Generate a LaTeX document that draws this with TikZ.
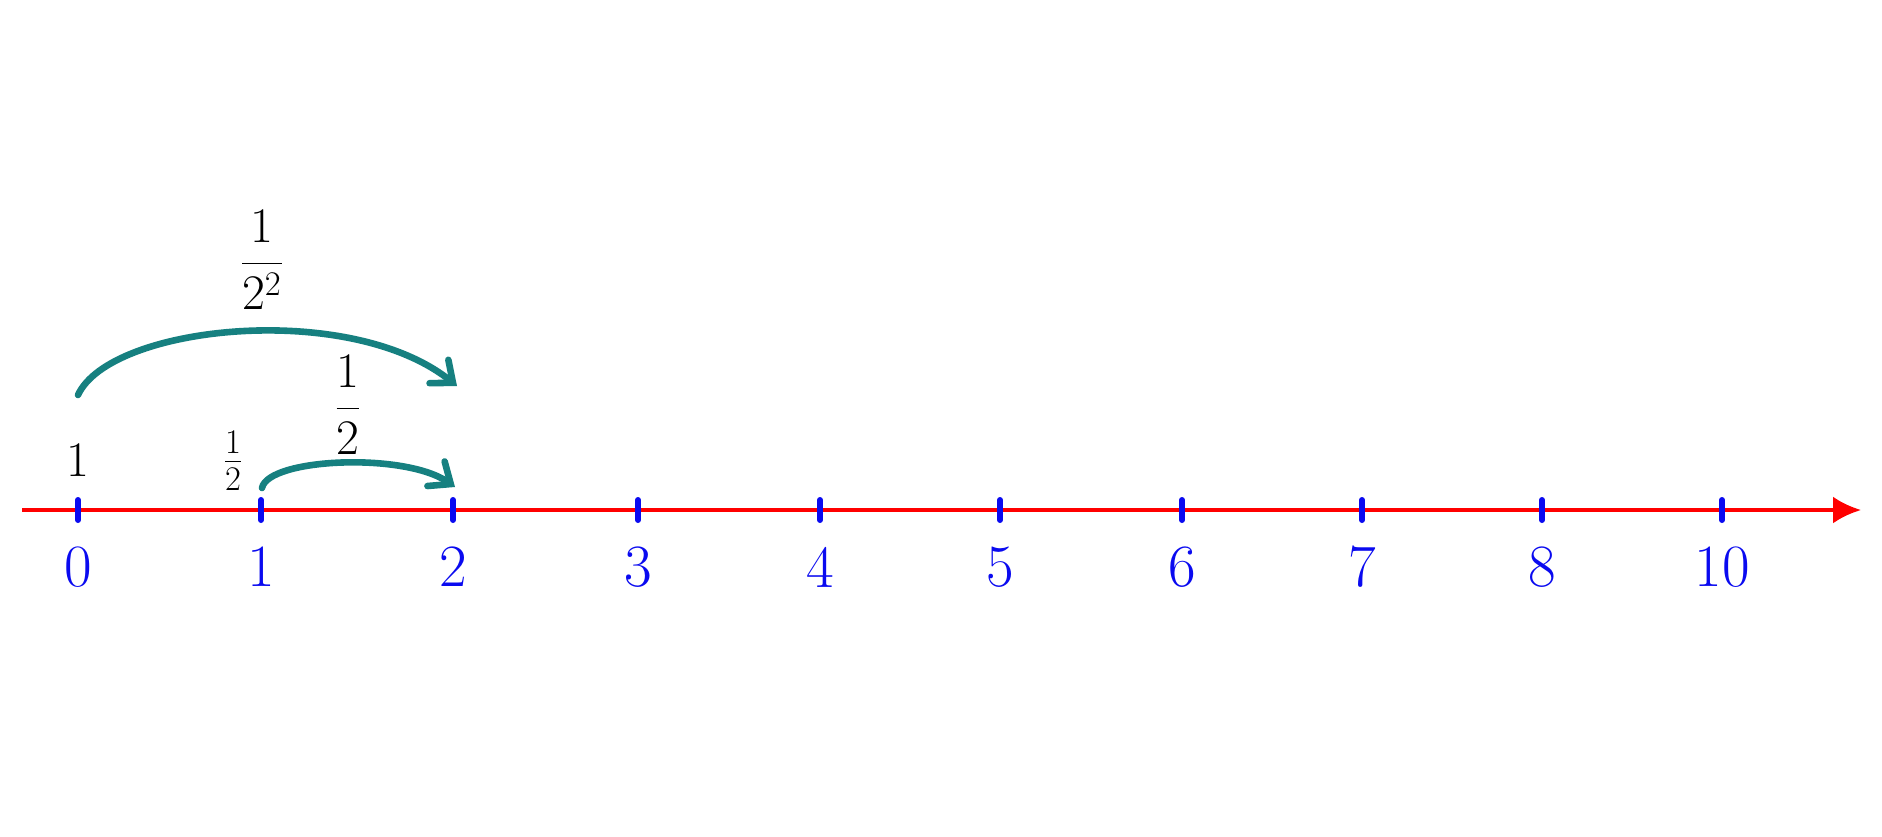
\documentclass[tikz,border=0pt]{standalone}
\usetikzlibrary{arrows.meta}
\definecolor{axisred}{RGB}{255,0,0}
\definecolor{tickblue}{RGB}{10,10,240}
\definecolor{arcteal}{RGB}{22,128,128}
\begin{document}
\begin{tikzpicture}[x=0.5pt,y=-0.5pt,
  axisline/.style={draw=axisred,line width=2pt,-{Latex[length=14pt,width=13.5pt]}},
  tickmark/.style={draw=tickblue,line width=3pt,line cap=round},
  ticklabel/.style={text=tickblue,inner sep=0pt,font=\fontsize{30}{36}\selectfont},
  blacklabel/.style={text=black,inner sep=0pt,font=\fontsize{26}{31}\selectfont},
  jumparc/.style={draw=arcteal,line width=3.3pt,line cap=round,-{Straight Barb[length=9pt,width=15pt,line cap=round]}}]
\useasboundingbox (0,0) rectangle (1882,836);
\fill[white] (0,0) rectangle (1882,836);
% axis
\coordinate (axstart) at (22,510);
\coordinate (axend) at (1861,510);
\draw[axisline] (axstart) -- (axend);
% ticks and labels
\foreach \x/\lab/\nm in {78/0/0,261/1/1,453/2/2,638/3/3,820/4/4,1000/5/5,1182/6/6,1362/7/7,1542/8/8,1722/10/10}{
  \coordinate (t\nm) at (\x,510);
  \draw[tickmark] (\x,500) -- (\x,520);
  \node[ticklabel] (l\nm) at (\x,567) {\lab};
}
% upper labels
\node[blacklabel] (one) at (78,460) {$1$};
\node[blacklabel] (halfsmall) at (233,461) {$\frac{1}{2}$};
\node[blacklabel] (half) at (348,405) {$\displaystyle\frac{1}{2}$};
\node[blacklabel] (quarter) at (262,260) {$\displaystyle\frac{1}{2^2}$};
% arcs
\coordinate (a0) at (78,395);
\coordinate (a1) at (457,386);
\coordinate (b0) at (262,488);
\coordinate (b1) at (455,487);
\draw[jumparc] (a0) .. controls (110,325) and (350,300) .. (a1);
\draw[jumparc] (b0) .. controls (268,458) and (405,452) .. (b1);
\end{tikzpicture}
\end{document}
